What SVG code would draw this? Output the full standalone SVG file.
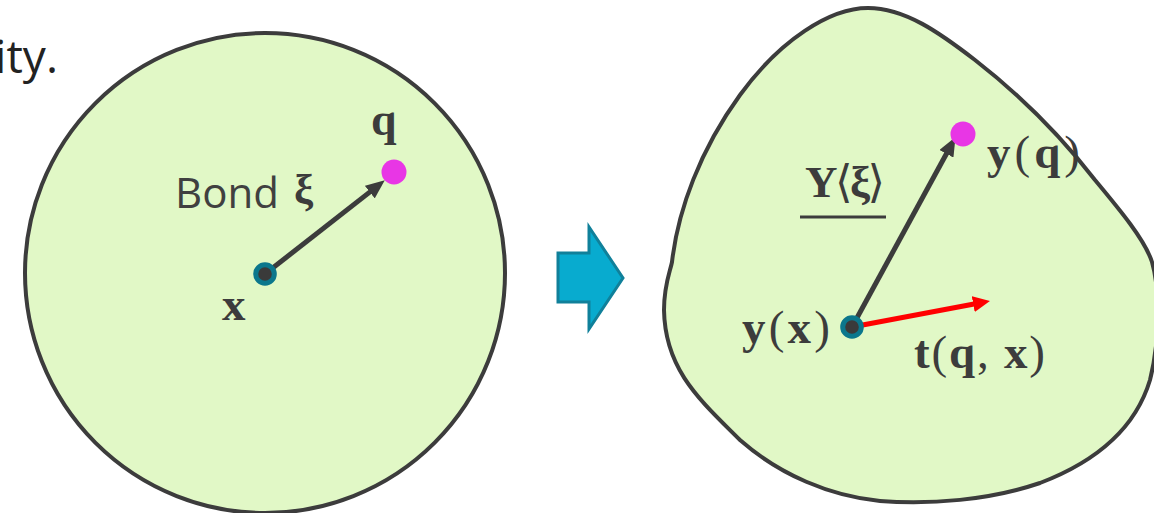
<svg xmlns="http://www.w3.org/2000/svg" width="1154" height="513" viewBox="0 0 1154 513">
<defs>
<style>
.body{fill:#e1f8c6;stroke:#3c3c3c;stroke-width:4}
.ring{fill:#3a3a3a;stroke:#0b778c;stroke-width:5}
.pt{fill:#e836e5}
.sans{font-family:"Open Sans","Noto Sans",sans-serif;fill:#404040}
.m{font-family:"Liberation Serif","DejaVu Serif",serif;font-weight:bold;fill:#3c3c3c}
.m .p{font-weight:normal}
.bond{stroke:#3c3c3c;stroke-width:5;fill:none}
.trac{stroke:#ff0000;stroke-width:5;fill:none}
</style>
<marker id="ah" viewBox="0 0 19 16" refX="10" refY="8" markerWidth="19" markerHeight="16" orient="auto" markerUnits="userSpaceOnUse">
<path d="M0,0 L19,8 L0,16 z" fill="#3c3c3c"/>
</marker>
<marker id="ahr" viewBox="0 0 17 16" refX="9" refY="8" markerWidth="17" markerHeight="16" orient="auto" markerUnits="userSpaceOnUse">
<path d="M0,0 L17,8 L0,16 z" fill="#ff0000"/>
</marker>
</defs>
<rect width="1154" height="513" fill="#ffffff"/>
<text class="sans" x="58" y="73" font-size="46" text-anchor="end" style="fill:#222222">ity.</text>

<g id="reference-body">
<circle class="body" cx="265" cy="273" r="240"/>
</g>
<g id="deformed-body">
<path class="body" d="M 868 8 C 905 8 940 33 975 60 C 1020 95 1060 135 1095 180 C 1120 210 1145 240 1152 262 C 1160 290 1160 340 1150 380 C 1135 430 1095 462 1040 483 C 990 500 930 505 880 501 C 830 496 780 475 740 440 C 700 400 665 370 664 310 C 664 285 670 272 672 262 C 678 210 700 150 740 95 C 780 40 830 8 868 8 Z"/>
</g>
<g id="deform-arrow">
<polygon points="558,253 589,253 589,227 623,278 589,329 589,302 558,302" fill="#08abcf" stroke="#10809a" stroke-width="3" stroke-linejoin="miter"/>
</g>

<g id="connectors">
<line class="bond" x1="265" y1="274" x2="377.7" y2="185.9" marker-end="url(#ah)"/>
<line class="bond" x1="852" y1="327" x2="951.2" y2="145" marker-end="url(#ah)"/>
<line class="trac" x1="852" y1="327" x2="982.1" y2="302.5" marker-end="url(#ahr)"/>
</g>

<g id="node-x">
<circle class="ring" cx="265" cy="274" r="9.3"/>
<text class="m" x="222" y="320" font-size="47">x</text>
</g>
<g id="node-q">
<circle class="pt" cx="394" cy="172" r="12.5"/>
<text class="m" x="371" y="135" font-size="46">q</text>
</g>
<g id="label-bond">
<text class="sans" x="175" y="208" font-size="42">Bond</text>
<text class="m" x="294" y="204" font-size="43">ξ</text>
</g>
<g id="node-yx">
<circle class="ring" cx="852" cy="327" r="9.3"/>
<text class="m" x="742" y="343" font-size="47" textLength="88" lengthAdjust="spacing">y<tspan class="p">(</tspan>x<tspan class="p">)</tspan></text>
</g>
<g id="node-yq">
<circle class="pt" cx="963" cy="134" r="12.5"/>
<text class="m" x="987" y="168" font-size="47" textLength="93" lengthAdjust="spacing">y<tspan class="p">(</tspan>q<tspan class="p">)</tspan></text>
</g>
<g id="label-Y">
<text class="m" x="805" y="197" font-size="45" textLength="80" lengthAdjust="spacing">Y<tspan class="p">⟨</tspan>ξ<tspan class="p">⟩</tspan></text>
<line x1="800" y1="217" x2="886" y2="217" stroke="#3c3c3c" stroke-width="3"/>
</g>
<g id="label-t">
<text class="m" x="914" y="368" font-size="47" textLength="131" lengthAdjust="spacing">t<tspan class="p">(</tspan>q<tspan class="p">, </tspan>x<tspan class="p">)</tspan></text>
</g>
</svg>
